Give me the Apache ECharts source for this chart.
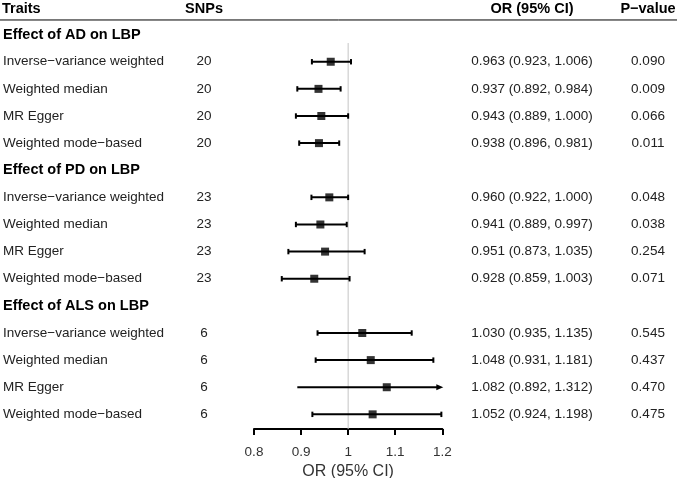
<!DOCTYPE html>
<html><head><meta charset="utf-8">
<script src="https://cdn.jsdelivr.net/npm/echarts@6/dist/echarts.min.js"></script>
<style>html,body{margin:0;padding:0;background:#fff}#c{width:677px;height:478px}</style>
</head><body><div id="c"></div>
<script>
// ---- data ----
const headers = ['Traits', 'SNPs', 'OR (95% CI)', 'P\u2212value'];
const groupTitles = ['Effect of AD on LBP', 'Effect of PD on LBP', 'Effect of ALS on LBP'];
const methods = ['Inverse\u2212variance weighted', 'Weighted median', 'MR Egger', 'Weighted mode\u2212based'];
const snps = [20, 20, 20, 20, 23, 23, 23, 23, 6, 6, 6, 6];
const orValues = [0.963, 0.937, 0.943, 0.938, 0.960, 0.941, 0.951, 0.928, 1.030, 1.048, 1.082, 1.052];
const ciLower = [0.923, 0.892, 0.889, 0.896, 0.922, 0.889, 0.873, 0.859, 0.935, 0.931, 0.892, 0.924];
const ciUpper = [1.006, 0.984, 1.000, 0.981, 1.000, 0.997, 1.035, 1.003, 1.135, 1.181, 1.312, 1.198];
const pValues = ['0.090', '0.009', '0.066', '0.011', '0.048', '0.038', '0.254', '0.071', '0.545', '0.437', '0.470', '0.475'];
const xTicks = [0.8, 0.9, 1, 1.1, 1.2];
const xAxisName = 'OR (95% CI)';
const refValue = 1;

// ---- layout ----
const X_MIN = xTicks[0], X_MAX = xTicks[xTicks.length - 1];
const Y_MAX = 15.54;
const FONT = '"Liberation Sans", Arial, Helvetica, sans-serif';
const COL_X = { trait: 3, snp: 204, or: 532, p: 648 };

const rows = [];
rows.push({ kind: 'header', y: 0.05 });
groupTitles.forEach((g, gi) => {
  rows.push({ kind: 'title', y: 1 + 5 * gi, text: g });
  methods.forEach((m, mi) => {
    rows.push({ kind: 'data', y: 2 + 5 * gi + mi, i: gi * 4 + mi, method: m });
  });
});
const dataRows = rows.filter(r => r.kind === 'data');
const fmt = v => v.toFixed(3);

function txt(x, y, text, opt) {
  return {
    type: 'text', x: x, y: y,
    style: Object.assign({
      text: text, align: 'left', verticalAlign: 'middle',
      fontFamily: FONT, fontSize: 13.5, fontWeight: 'normal', fill: '#222'
    }, opt || {})
  };
}

const chart = echarts.init(document.getElementById('c'), null, { renderer: 'canvas' });
chart.setOption({
  animation: false,
  backgroundColor: '#fff',
  grid: { left: 254, right: 234.7, top: 7.5, bottom: 49, containLabel: false, outerBoundsMode: 'none' },
  xAxis: {
    type: 'value', min: X_MIN, max: X_MAX, interval: 0.1, position: 'bottom',
    axisLine: { show: true, onZero: false, lineStyle: { color: '#000', width: 2 } },
    axisTick: { show: true, length: 6, inside: false, lineStyle: { color: '#000', width: 2 } },
    splitLine: { show: false },
    axisLabel: {
      color: '#333', fontSize: 13.5, fontFamily: FONT, margin: 16,
      formatter: v => { const t = xTicks.find(k => Math.abs(k - v) < 1e-6); return t === undefined ? '' : String(t); }
    },
    name: xAxisName, nameLocation: 'middle', nameGap: 31,
    nameTextStyle: { color: '#333', fontSize: 16, fontFamily: FONT }
  },
  yAxis: { type: 'value', min: 0, max: Y_MAX, inverse: true, show: false },
  series: [
    {
      type: 'line', z: 1, symbol: 'none', silent: true,
      data: [[refValue, 1.31], [refValue, Y_MAX]],
      lineStyle: { color: '#c4c4c4', width: 1 }
    },
    {
      type: 'custom', z: 3, silent: true, clip: false,
      data: dataRows.map(r => [ciLower[r.i], ciUpper[r.i], r.y]),
      renderItem: function (params, api) {
        const lo = api.value(0), hi = api.value(1), y = api.value(2);
        const over = hi > X_MAX;
        const p1 = api.coord([Math.max(lo, X_MIN), y]);
        const p2 = api.coord([Math.min(hi, X_MAX), y]);
        const st = { stroke: '#000', lineWidth: 2 };
        const ch = [{ type: 'line', shape: { x1: p1[0], y1: p1[1], x2: p2[0] - (over ? 4 : 0), y2: p2[1] }, style: st }];
        const cap = 2.7;
        if (over) {
          ch.push({ type: 'polygon', shape: { points: [[p2[0] + 1, p2[1]], [p2[0] - 6, p2[1] - 3], [p2[0] - 6, p2[1] + 3]] }, style: { fill: '#000' } });
        } else {
          ch.push({ type: 'line', shape: { x1: p1[0], y1: p1[1] - cap, x2: p1[0], y2: p1[1] + cap }, style: st });
          ch.push({ type: 'line', shape: { x1: p2[0], y1: p2[1] - cap, x2: p2[0], y2: p2[1] + cap }, style: st });
        }
        return { type: 'group', children: ch };
      }
    },
    {
      type: 'scatter', z: 4, silent: true, symbol: 'rect', symbolSize: 8,
      itemStyle: { color: '#000' },
      data: dataRows.map(r => [orValues[r.i], r.y])
    },
    {
      type: 'custom', z: 5, silent: true, clip: false,
      data: rows.map((r, k) => [k, r.y]),
      renderItem: function (params, api) {
        const r = rows[api.value(0)];
        const yy = api.coord([X_MIN, r.y])[1];
        const ch = [];
        if (r.kind === 'header') {
          const b = { fontWeight: 'bold', fontSize: 14.5, fill: '#000' };
          ch.push(txt(COL_X.trait - 1, yy, headers[0], b));
          ch.push(txt(COL_X.snp, yy, headers[1], Object.assign({ align: 'center' }, b)));
          ch.push(txt(COL_X.or, yy, headers[2], Object.assign({ align: 'center' }, b)));
          ch.push(txt(COL_X.p, yy, headers[3], Object.assign({ align: 'center' }, b)));
          const ly = api.coord([X_MIN, 0.46])[1];
          ch.push({ type: 'line', shape: { x1: 0, y1: ly, x2: 677, y2: ly }, style: { stroke: '#000', lineWidth: 1 } });
        } else if (r.kind === 'title') {
          ch.push(txt(COL_X.trait, yy, r.text, { fontWeight: 'bold', fontSize: 14.5, fill: '#000' }));
        } else {
          const i = r.i;
          ch.push(txt(COL_X.trait, yy, r.method));
          ch.push(txt(COL_X.snp, yy, String(snps[i]), { align: 'center' }));
          ch.push(txt(COL_X.or, yy, fmt(orValues[i]) + ' (' + fmt(ciLower[i]) + ', ' + fmt(ciUpper[i]) + ')', { align: 'center' }));
          ch.push(txt(COL_X.p, yy, pValues[i], { align: 'center' }));
        }
        return { type: 'group', children: ch };
      }
    }
  ]
});
</script></body></html>
